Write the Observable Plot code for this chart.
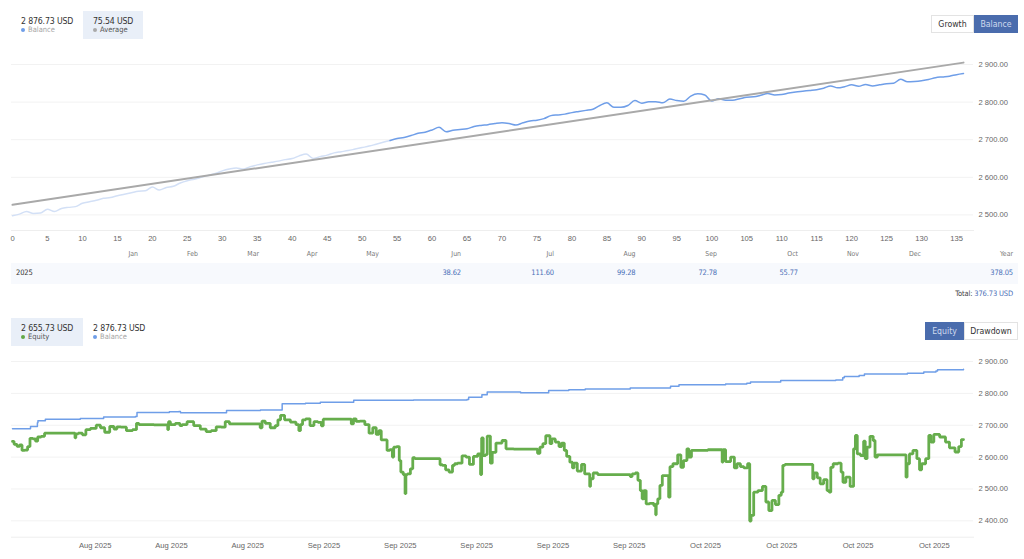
<!DOCTYPE html>
<html><head><meta charset="utf-8">
<script src="https://cdn.jsdelivr.net/npm/d3@7"></script>
<script src="https://cdn.jsdelivr.net/npm/@observablehq/plot@0.6"></script>
<style>
html,body{margin:0;padding:0;background:#fff;width:1024px;height:559px;overflow:hidden}
body{position:relative;font-family:"DejaVu Sans Condensed","DejaVu Sans",sans-serif;font-stretch:condensed;color:#222}
.abs{position:absolute;white-space:nowrap}
.box{position:absolute;background:#e9eff8}
.val{font-size:8.7px;letter-spacing:-.15px;line-height:12px;color:#333}
.year{font-size:7.5px;letter-spacing:-.15px;line-height:12px;color:#333}
.lab{font-size:7.5px;line-height:10px;color:#a5a5a5}
.lab.on{color:#555}
.dot{position:absolute;width:4px;height:4px;border-radius:50%}
.btn{position:absolute;box-sizing:border-box;border:1px solid #e3e3e3;background:#fff;color:#333;font-size:8.7px;text-align:center;line-height:16px}
.btn.on{background:#4a6cad;border-color:#4a6cad;color:#cfdaef}
.mon{font-size:6.9px;color:#777;line-height:10px}
.cell{font-size:7.5px;letter-spacing:-.15px;color:#4a70b8;line-height:10px}
</style></head><body>
<script>
// --- top chart: balance by deal index
const balanceByDeal = [2498,2502,2509,2504,2505,2515,2509,2517,2520,2522,2531,
2535,2539,2544,2546,2551,2555,2559,2563,2564,2574,
2566,2573,2576,2585,2591,2595,2600,2605,2610,2617,
2622,2625,2622,2628,2633,2637,2640,2643,2647,2650,
2657,2662,2650,2655,2659,2665,2668,2671,2675,2679,
2683,2688,2693,2698,2703,2706,2711,2717,2720,2726,
2733,2721,2725,2727,2729,2735,2738,2740,2743,2745,
2743,2739,2745,2750,2752,2756,2764,2766,2768,2772,
2775,2778,2781,2791,2798,2786,2786,2791,2804,2797,
2801,2801,2798,2808,2804,2802,2816,2822,2819,2803,
2809,2805,2805,2809,2813,2814,2818,2823,2819,2820,
2824,2827,2829,2831,2833,2837,2843,2838,2841,2846,
2842,2847,2843,2846,2849,2850,2861,2854,2855,2857,
2860,2865,2867,2869,2873,2876];
const fadedUntilDeal = 54;
const averageDeal = [0,136];
const averageValue = [2527,2905];
const dealTicks = d3.range(0,136,5);
const topYTicks = [2500,2600,2700,2800,2900];

// --- table
const monthNames = ["Jan","Feb","Mar","Apr","May","Jun","Jul","Aug","Sep","Oct","Nov","Dec","Year"];
const monthEdge  = [138,198,259,317.5,379,461,554,635.5,717,798,859,921,1013];
const tableValues = ["","","","","","38.62","111.60","99.28","72.78","55.77","","","378.05"];

// --- bottom chart: hours since the start of the window
const startTime = Date.UTC(2025,7,7,12);
const endHour = 1795;
const equityHour = [0,6,11,16,20,26,31,35,42,45,50,58,63,117,119,120,128,136,141,153,163,169,179,188,195,199,210,220,233,235,242,292,294,295,301,314,318,323,336,348,361,370,380,389,399,404,415,467,
468,474,480,493,499,503,509,518,531,539,542,545,550,557,566,572,581,585,588,638,641,646,651,660,670,676,684,689,694,698,706,708,716,718,721,729,731,735,740,742,743,748,754,757,762,806,808,815,820,828,833,836,844,853,859,866,874,882,885,886,891,895,897,900,904,907,918,930,933,959,
989,993,998,1004,1009,1013,1016,1020,1029,1034,1039,1044,1048,1056,1058,1062,1070,1078,1082,1089,1090,1092,1100,1109,1165,1167,1172,1179,1182,1188,1189,1194,1198,1207,1214,1214,1216,1220,1224,1229,1237,1240,1242,1251,1260,1263,1270,1276,1277,1286,1339,1340,1342,1350,1361,1364,1371,1377,1384,1391,1392,1396,1402,1412,1419,1425,1430,1437,1443,1450,
1452,1456,1460,1510,1511,1515,1523,1526,1536,1539,1544,1545,1553,1563,1565,1570,1576,1586,1589,1593,1596,1605,1608,1611,1615,1622,1627,1629,1636,1686,1687,1690,1696,1703,1711,1713,1719,1728,1731,1736,1742,1758,1764,1773,1785,1787,1795];
const equityValue = [2649,2640,2634,2638,2621,2622,2633,2659,2657,2650,2663,2665,2675,2675,2660,2673,2675,2670,2686,2690,2700,2692,2678,2696,2688,2695,2694,2683,2686,2706,2702,2701,2686,2711,2702,2706,2699,2702,2711,2699,2688,2680,2683,2695,2694,2711,2704,2704,
2692,2713,2706,2692,2699,2717,2731,2717,2710,2702,2683,2702,2717,2720,2699,2711,2709,2698,2719,2719,2704,2720,2712,2713,2702,2675,2692,2671,2683,2654,2654,2621,2623,2600,2631,2633,2589,2553,2545,2485,2545,2547,2563,2598,2595,2595,2576,2574,2560,2553,2574,2579,2581,2604,2600,2577,2602,2610,2545,2660,2605,2608,2666,2666,2581,2615,2644,2652,2626,2625,
2625,2612,2631,2642,2667,2667,2642,2657,2647,2633,2644,2621,2602,2584,2566,2581,2556,2577,2547,2547,2508,2532,2550,2545,2545,2539,2547,2550,2527,2495,2469,2495,2453,2455,2448,2419,2453,2469,2511,2542,2542,2474,2570,2579,2607,2568,2589,2626,2600,2621,2623,2584,2623,2586,2600,2566,2579,2570,2566,2579,2399,2417,2490,2495,2508,2459,2432,2464,2451,2480,
2490,2574,2577,2577,2532,2550,2535,2516,2529,2495,2490,2568,2579,2581,2553,2521,2537,2508,2626,2668,2610,2605,2650,2595,2631,2665,2652,2600,2607,2607,2537,2579,2610,2621,2595,2560,2579,2595,2668,2647,2671,2663,2647,2629,2616,2633,2655];
const balanceHour = [0,28,34,47,48,60,62,127,128,169,172,232,235,295,296,314,317,396,404,468,499,509,553,581,644,757,858,861,886,896,905,959,1006,1012,1050,1081,1166,1242,1258,1346,1386,1393,1450,1545,1554,1567,1570,1598,1608,1686,1689,1720,1743,1746,1795];
const balanceValue = [2689,2689,2696,2708,2714,2714,2719,2719,2721,2721,2726,2727,2740,2740,2742,2743,2739,2739,2746,2748,2748,2767,2769,2772,2778,2779,2781,2788,2796,2804,2804,2802,2802,2809,2811,2814,2817,2822,2827,2829,2832,2836,2840,2840,2842,2849,2853,2856,2861,2861,2863,2867,2870,2874,2876];
const dateTicks = [[7,14],[7,20],[7,26],[8,1],[8,7],[8,13],[8,19],[8,25],[9,1],[9,7],[9,13],[9,19]].map(([m,d])=>new Date(Date.UTC(2025,m,d)));
const bottomYTicks = [2400,2500,2600,2700,2800,2900];

const fmtY = d => d3.format(",.2f")(d).replace(",", " ");
const toDate = h => new Date(startTime + h*36e5);

function el(cls, x, y, html, extra={}) {
  const e = document.createElement("div");
  e.className = "abs "+cls; e.style.left = x+"px"; e.style.top = y+"px";
  if (html!=null) e.innerHTML = html;
  Object.assign(e.style, extra);
  document.body.appendChild(e); return e;
}
function elRight(cls, xRight, y, html) {
  const e = document.createElement("div");
  e.className = "abs "+cls; e.style.right = (1024-xRight)+"px"; e.style.top = y+"px";
  e.innerHTML = html;
  document.body.appendChild(e); return e;
}
const gridStyle = {stroke:"#f2f2f2", strokeWidth:1};
const axisStyle = {tickSize:0, fill:"#666", fontSize:7.6};
const plotStyle = {background:"transparent", overflow:"visible", position:"absolute", left:"0", fontFamily:"'Liberation Sans',Arial,sans-serif", fontSize:"7.6px"};

// top plot
const topDeals = balanceByDeal.map((v,i)=>({i,v}));
const topPlot = Plot.plot({
  width:1024, height:195, marginLeft:11, marginRight:51, marginTop:0, marginBottom:15,
  style:{...plotStyle, top:"50px"},
  x:{domain:[0,136], range:[12,963]},
  y:{domain:[2500,2900], range:[164.4,14]},
  marks:[
    Plot.ruleY(topYTicks, gridStyle),
    Plot.frame({anchor:"bottom", stroke:"#eeeeee"}),
    Plot.axisX({ticks:dealTicks, anchor:"bottom", tickPadding:5, label:null, ...axisStyle}),
    Plot.axisY({ticks:topYTicks, anchor:"right", tickPadding:5, tickFormat:fmtY, label:null, ...axisStyle}),
    Plot.line(topDeals.filter(d=>d.i<=fadedUntilDeal), {x:"i", y:"v", stroke:"#d3e0f6", strokeWidth:1.5, curve:"monotone-x"}),
    Plot.line(topDeals.filter(d=>d.i>=fadedUntilDeal), {x:"i", y:"v", stroke:"#6f9ee8", strokeWidth:1.5, curve:"monotone-x"}),
    Plot.line(averageDeal.map((x,i)=>({x, y:averageValue[i]})), {x:"x", y:"y", stroke:"#a9a9a9", strokeWidth:2})
  ]
});
document.body.appendChild(topPlot);

// bottom plot
const botPlot = Plot.plot({
  width:1024, height:209, marginLeft:11, marginRight:51, marginTop:0, marginBottom:22.3,
  style:{...plotStyle, top:"350px"},
  x:{type:"utc", domain:[toDate(0),toDate(endHour)], range:[12,963]},
  y:{domain:[2400,2900], range:[170.3,11]},
  marks:[
    Plot.ruleY(bottomYTicks, gridStyle),
    Plot.frame({anchor:"bottom", stroke:"#eeeeee"}),
    Plot.axisX({ticks:dateTicks, anchor:"bottom", tickPadding:5, tickFormat:d3.utcFormat("%b %Y"), label:null, ...axisStyle}),
    Plot.axisY({ticks:bottomYTicks, anchor:"right", tickPadding:5, tickFormat:fmtY, label:null, ...axisStyle}),
    Plot.line(balanceHour.map((h,i)=>({x:toDate(h), y:balanceValue[i]})), {x:"x", y:"y", stroke:"#6f9ee8", strokeWidth:1.5, curve:"step-after"}),
    Plot.line(equityHour.map((h,i)=>({x:toDate(h), y:equityValue[i]})), {x:"x", y:"y", stroke:"#66ad4c", strokeWidth:2.8, strokeLinejoin:"miter", curve:"step"})
  ]
});
document.body.appendChild(botPlot);

// top header
Object.assign(el("box",83,11).style,{width:"60px",height:"28px"});
el("val",21,15,"2 876.73 USD");
el("lab",28,25,"Balance");
el("dot",20.5,28,null,{background:"#6f9ee8"});
el("val",93,15,"75.54 USD");
el("lab on",100,25,"Average");
el("dot",92.5,28,null,{background:"#a9a9a9"});
el("btn",931,15,"Growth",{width:"43px",height:"18px"});
el("btn on",974,15,"Balance",{width:"44px",height:"18px"});

// table
monthNames.forEach((m,i)=>elRight("mon",monthEdge[i],249,m));
Object.assign(el("box",11,263).style,{width:"1007px",height:"20.5px",background:"#f7f9fd"});
el("year",16,267,"2025");
tableValues.forEach((v,i)=>{ if(v) elRight("cell",monthEdge[i],268,v); });
elRight("cell",1013,288.5,'<span style="color:#444">Total:</span> 376.73 USD');

// bottom header
Object.assign(el("box",11,318).style,{width:"72px",height:"28px"});
el("val",21,322,"2 655.73 USD");
el("lab on",28,332,"Equity");
el("dot",20.5,335,null,{background:"#62a845"});
el("val",93,322,"2 876.73 USD");
el("lab",100,332,"Balance");
el("dot",92.5,335,null,{background:"#6f9ee8"});
el("btn on",925,322,"Equity",{width:"39px",height:"18px"});
el("btn",964,322,"Drawdown",{width:"54px",height:"18px"});
</script>
</body></html>
